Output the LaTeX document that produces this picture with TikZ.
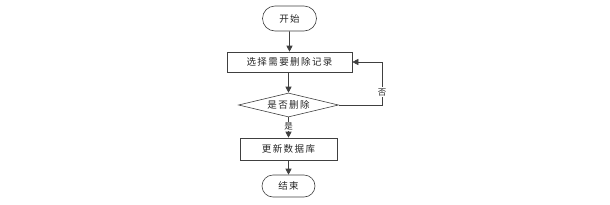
\documentclass[tikz,border=0pt]{standalone}
\usepackage{fontspec}
\newfontfamily\cjk[LetterSpace=15]{Noto Sans CJK SC}
\usetikzlibrary{shapes.geometric,shapes.misc,arrows.meta,shadows}
\begin{document}
\begin{tikzpicture}[x=1pt,y=-1pt,
  every node/.style={font=\cjk\fontsize{9.5}{11}\selectfont, text=black!85},
  line/.style={draw=black!75, line width=0.6pt},
  term/.style={line, rounded rectangle, minimum width=54pt, minimum height=25pt, inner sep=0pt, fill=white},
  proc/.style={line, rectangle, inner sep=0pt, fill=white, drop shadow={shadow xshift=1.2pt, shadow yshift=-1.2pt, fill=black!35, opacity=1}},
  dec/.style={line, diamond, aspect=4.2, inner sep=0pt, minimum width=100pt, minimum height=24pt, fill=white},
  arr/.style={line, -{Triangle[length=6pt,width=6pt]}},
  lab/.style={fill=white, inner sep=1pt, font=\cjk\fontsize{8.5}{10}\selectfont}
]
\useasboundingbox (0,0) rectangle (610,204);
\node[term] (start) at (289.5,18.5) {开始};
\node[proc, minimum width=125pt, minimum height=20pt] (sel) at (289.5,62) {选择需要删除记录};
\node[dec] (q) at (288.5,105) {是否删除};
\node[proc, minimum width=97pt, minimum height=22pt] (upd) at (288.5,149) {更新数据库};
\node[term, minimum width=53pt, minimum height=22pt] (end) at (288.5,186) {结束};
\coordinate (c1) at (382,105);
\coordinate (c2) at (382,62);
\draw[arr] (start) -- (sel);
\draw[arr] (sel.south -| q.north) -- (q.north);
\draw[arr] (q) -- node[lab, pos=0.45] (yes) {是} (upd);
\draw[arr] (upd) -- (end);
\draw[arr] (q.east) -- (c1) -- node[lab, pos=0.3] (no) {否} (c2) -- (sel.east);
\end{tikzpicture}
\end{document}
